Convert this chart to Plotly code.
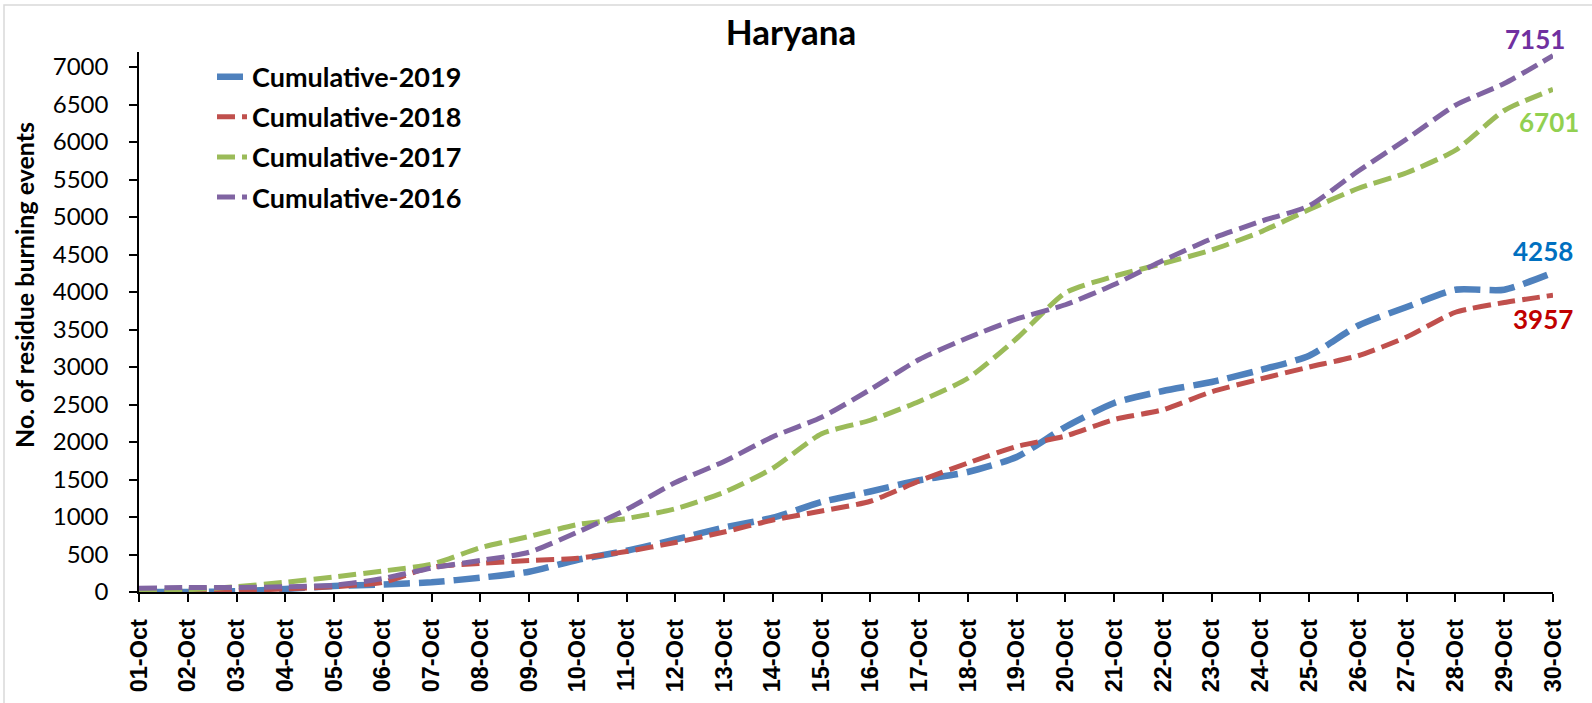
import plotly.graph_objects as go

days = [f"{d:02d}-Oct" for d in range(1, 31)]

cum_2019 = [0, 0, 10, 40, 80, 100, 130, 190, 270, 430, 550, 700, 860, 990, 1200,
            1340, 1490, 1600, 1800, 2200, 2520, 2680, 2800, 2960, 3150, 3550, 3800, 4030, 4030, 4258]
cum_2018 = [10, 10, 20, 40, 70, 130, 330, 380, 420, 450, 540, 660, 800, 960, 1080,
            1210, 1480, 1720, 1940, 2080, 2300, 2430, 2670, 2840, 3000, 3150, 3400, 3730, 3860, 3957]
cum_2017 = [0, 30, 70, 130, 200, 280, 370, 590, 740, 900, 980, 1110, 1330, 1650, 2110,
            2290, 2540, 2850, 3380, 3990, 4210, 4380, 4560, 4800, 5100, 5380, 5590, 5890, 6420, 6701]
cum_2016 = [50, 60, 60, 70, 90, 180, 320, 420, 530, 800, 1100, 1460, 1740, 2070, 2330,
            2700, 3100, 3390, 3640, 3830, 4100, 4420, 4710, 4940, 5150, 5610, 6040, 6490, 6780, 7151]

series = [
    ("Cumulative-2019", cum_2019, "#4F81BD", 6.5, "26px,9px"),
    ("Cumulative-2018", cum_2018, "#C0504D", 5, "18px,7px"),
    ("Cumulative-2017", cum_2017, "#9BBB59", 5, "18px,7px"),
    ("Cumulative-2016", cum_2016, "#8064A2", 5, "18px,7px"),
]

end_labels = [
    (cum_2016[-1], "#7030A0", -18, 17),
    (cum_2017[-1], "#92D050", -4, -33),
    (cum_2019[-1], "#0070C0", -10, 22),
    (cum_2018[-1], "#C00000", -10, -24),
]

L, R, T, B = 139, 39, 52, 111
W, H = 1592, 703
PW, PH = W - L - R, H - T - B

fig = go.Figure()
for name, vals, color, w, dash in series:
    fig.add_trace(go.Scatter(
        x=days, y=vals, name=name, mode="lines",
        line=dict(color=color, width=w, dash=dash, shape="spline", smoothing=0.6),
        legendgroup=name,
    ))

for val, color, xs, ys in end_labels:
    fig.add_annotation(x=days[-1], y=val, text=f"<b>{val}</b>", showarrow=False,
                       xshift=xs, yshift=ys,
                       font=dict(family="Lato", size=26, color=color))

fig.add_annotation(xref="paper", yref="paper", x=(24 - L) / PW, y=(592 - 285) / PH,
                   text="<b>No. of residue burning events</b>", textangle=-90,
                   showarrow=False, xanchor="center", yanchor="middle",
                   font=dict(family="Lato", size=25, color="black"))

fig.update_layout(
    width=W, height=H,
    margin=dict(l=L, r=R, t=T, b=B, autoexpand=False),
    paper_bgcolor="white", plot_bgcolor="white",
    title=dict(text="<b>Haryana</b>", x=791 / W, xanchor="center",
               y=1 - 33 / H, yanchor="middle",
               font=dict(family="Lato", size=35, color="black")),
    legend=dict(x=(212 - L) / PW, y=0.9987, xanchor="left", yanchor="top",
                font=dict(family="Lato", size=27, color="black", weight="bold"),
                tracegroupgap=2, bgcolor="rgba(0,0,0,0)"),
    showlegend=True,
    shapes=[dict(type="rect", xref="paper", yref="paper",
                 x0=(4 - L) / PW, x1=1 + (W + 10 - (W - R)) / PW,
                 y0=-(H + 10 - (H - B)) / PH, y1=1 + (T - 5) / PH,
                 line=dict(color="#D9D9D9", width=1.5), layer="below")],
)

fig.update_xaxes(
    type="category", range=[0, 29], showgrid=False, automargin=False,
    showline=True, linecolor="black", linewidth=1.5,
    ticks="outside", ticklen=8, tickcolor="black", tickwidth=1.5,
    tickangle=-90, ticklabelstandoff=8,
    tickfont=dict(family="Liberation Sans", size=23.5, color="black", weight="bold"),
)
fig.update_yaxes(
    range=[0, 7200], dtick=500, tick0=0, showgrid=False, zeroline=False, automargin=False,
    showline=True, linecolor="black", linewidth=1.5,
    ticks="outside", ticklen=8, tickcolor="black", tickwidth=1.5,
    ticklabelstandoff=16,
    tickfont=dict(family="Lato", size=24, color="black"),
)

fig.write_html("out.html", config={"displayModeBar": False},
               post_script="document.body.style.margin='0';")
